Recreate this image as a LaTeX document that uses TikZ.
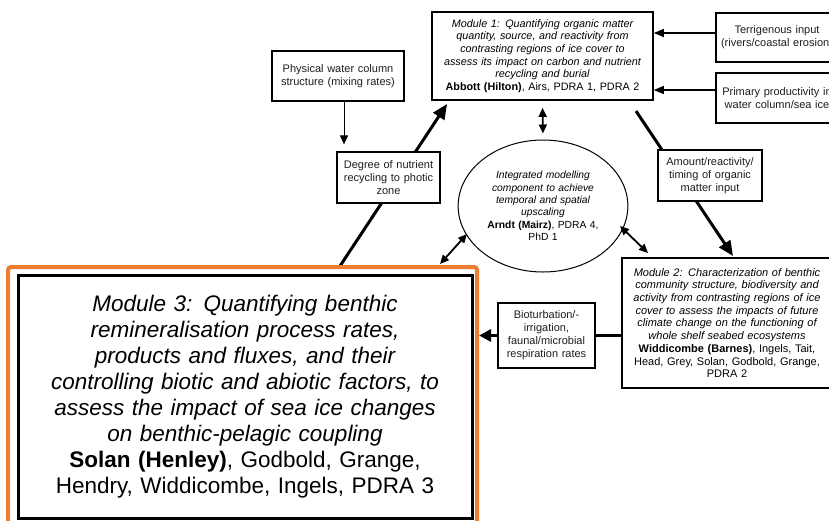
\documentclass[tikz,border=0pt]{standalone}
\usepackage{fontspec}
\setmainfont{Liberation Sans}
\usetikzlibrary{arrows.meta,shapes.geometric}
\definecolor{modorange}{RGB}{237,125,49}
\definecolor{txtgray}{RGB}{30,30,30}
\begin{document}
\begin{tikzpicture}[x=1pt,y=-1pt,
  sbox/.style={draw, line width=1.2pt, fill=white, align=center, inner sep=0pt, text=txtgray,
               font=\fontsize{11}{13}\selectfont},
  mbox/.style={draw, line width=1.6pt, fill=white, align=center, inner sep=0pt},
  bigarrow/.style={line width=3pt, -{Triangle[length=15pt,width=13pt]}},
  bigline/.style={line width=3pt},
  dblarrow/.style={line width=1.8pt, {Triangle[length=9pt,width=8pt]}-{Triangle[length=9pt,width=8pt]}},
  thinarrow/.style={line width=1.2pt, -{Triangle[length=10pt,width=8pt]}},
  slimarrow/.style={line width=1pt, -{Triangle[length=9pt,width=8pt]}}
]
\useasboundingbox (0,0) rectangle (829,520);
\fill[white] (0,0) rectangle (829,520);

% free ends of the long connectors
\coordinate (a1) at (340,266);
\coordinate (a2) at (447,104);
\coordinate (a3) at (636,111);
\coordinate (a4) at (733,256);
\coordinate (d1) at (467,234);
\coordinate (d2) at (440,264);
\coordinate (d3) at (620,226);
\coordinate (d4) at (648,253);

\draw[bigarrow] (a1) -- (a2);
\draw[bigarrow] (a3) -- (a4);

% Module 1
\node[mbox, minimum width=221pt, minimum height=88pt, text width=215pt,
      font=\fontsize{10.8}{12.6}\selectfont] (m1) at (542.5,56)
 {\itshape Module 1: Quantifying organic matter\\ quantity, source, and reactivity from\\
  contrasting regions of ice cover to\\ assess its impact on carbon and nutrient\\
  recycling and burial\\ \upshape\textbf{Abbott (Hilton)}, Airs, PDRA 1, PDRA 2};

% external inputs
\node[sbox, minimum width=122pt, minimum height=49pt, text width=122pt] (terr) at (777,37.5)
 {Terrigenous input\\ (rivers/coastal erosion)};
\node[sbox, minimum width=122pt, minimum height=50pt, text width=122pt] (prim) at (777,98)
 {Primary productivity in\\ water column/sea ice};

\node[sbox, minimum width=132pt, minimum height=50pt, text width=130pt] (phys) at (338,76)
 {Physical water column\\ structure (mixing rates)};
\node[sbox, minimum width=103pt, minimum height=51pt, text width=103pt] (deg) at (388.5,177.5)
 {Degree of nutrient\\ recycling to photic\\ zone};
\node[sbox, minimum width=104pt, minimum height=51pt, text width=104pt] (amt) at (710,175.5)
 {Amount/reactivity/\\ timing of organic\\ matter input};

% modelling ellipse
\node[ellipse, draw, line width=1pt, fill=white, minimum width=152pt, minimum height=132pt,
      inner sep=0pt, align=center, text width=120pt,
      font=\fontsize{10.3}{12.4}\selectfont] (ell) at (543,206)
 {\itshape Integrated modelling\\ component to achieve\\ temporal and spatial\\ upscaling\\
  \upshape\textbf{Arndt (Mairz)}, PDRA 4,\\ PhD 1};

% Module 2
\node[mbox, minimum width=210pt, minimum height=130pt, text width=205pt,
      font=\fontsize{11}{12.7}\selectfont] (m2) at (727,323)
 {\itshape Module 2: Characterization of benthic\\ community structure, biodiversity and\\
  activity from contrasting regions of ice\\ cover to assess the impacts of future\\
  climate change on the functioning of\\ whole shelf seabed ecosystems\\
  \upshape\textbf{Widdicombe (Barnes)}, Ingels, Tait,\\ Head, Grey, Solan, Godbold, Grange,\\ PDRA 2};

\node[sbox, minimum width=97pt, minimum height=65pt, text width=97pt] (bio) at (546.5,335.5)
 {Bioturbation/-\\ irrigation,\\ faunal/microbial\\ respiration rates};

% Module 3
\node[draw=modorange, line width=4pt, rounded corners=3pt, fill=white,
      minimum width=469pt, minimum height=263pt, inner sep=0pt] (m3o) at (242.5,398.5) {};
\node[draw, line width=3pt, fill=white, minimum width=454pt, minimum height=243pt,
      inner sep=0pt, align=center, text width=440pt,
      font=\fontsize{22.5}{26}\selectfont] (m3) at (245,396.5)
 {\itshape Module 3: Quantifying benthic\\ remineralisation process rates,\\
  products and fluxes, and their\\ controlling biotic and abiotic factors, to\\
  assess the impact of sea ice changes\\ on benthic-pelagic coupling\\
  \upshape\textbf{Solan (Henley)}, Godbold, Grange,\\ Hendry, Widdicombe, Ingels, PDRA 3};

% connectors
\draw[thinarrow] ([yshift=4.5pt]terr.west) -- ([yshift=4.5pt]terr.west -| m1.east);
\draw[thinarrow] ([yshift=8pt]prim.west) -- ([yshift=8pt]prim.west -| m1.east);
\draw[slimarrow, shorten >=7pt] ([xshift=6pt]phys.south) -- ([xshift=6pt]phys.south |- deg.north);
\draw[dblarrow, shorten <=7pt, shorten >=6pt] (m1.south) -- (ell.north);
\draw[dblarrow] (d1) -- (d2);
\draw[dblarrow] (d3) -- (d4);
\draw[bigline] (m2.west |- bio.east) -- (bio.east);
\draw[line width=3pt, -{Triangle[length=12pt,width=12pt]}] (bio.west) -- (bio.west -| m3o.east);
\end{tikzpicture}
\end{document}
